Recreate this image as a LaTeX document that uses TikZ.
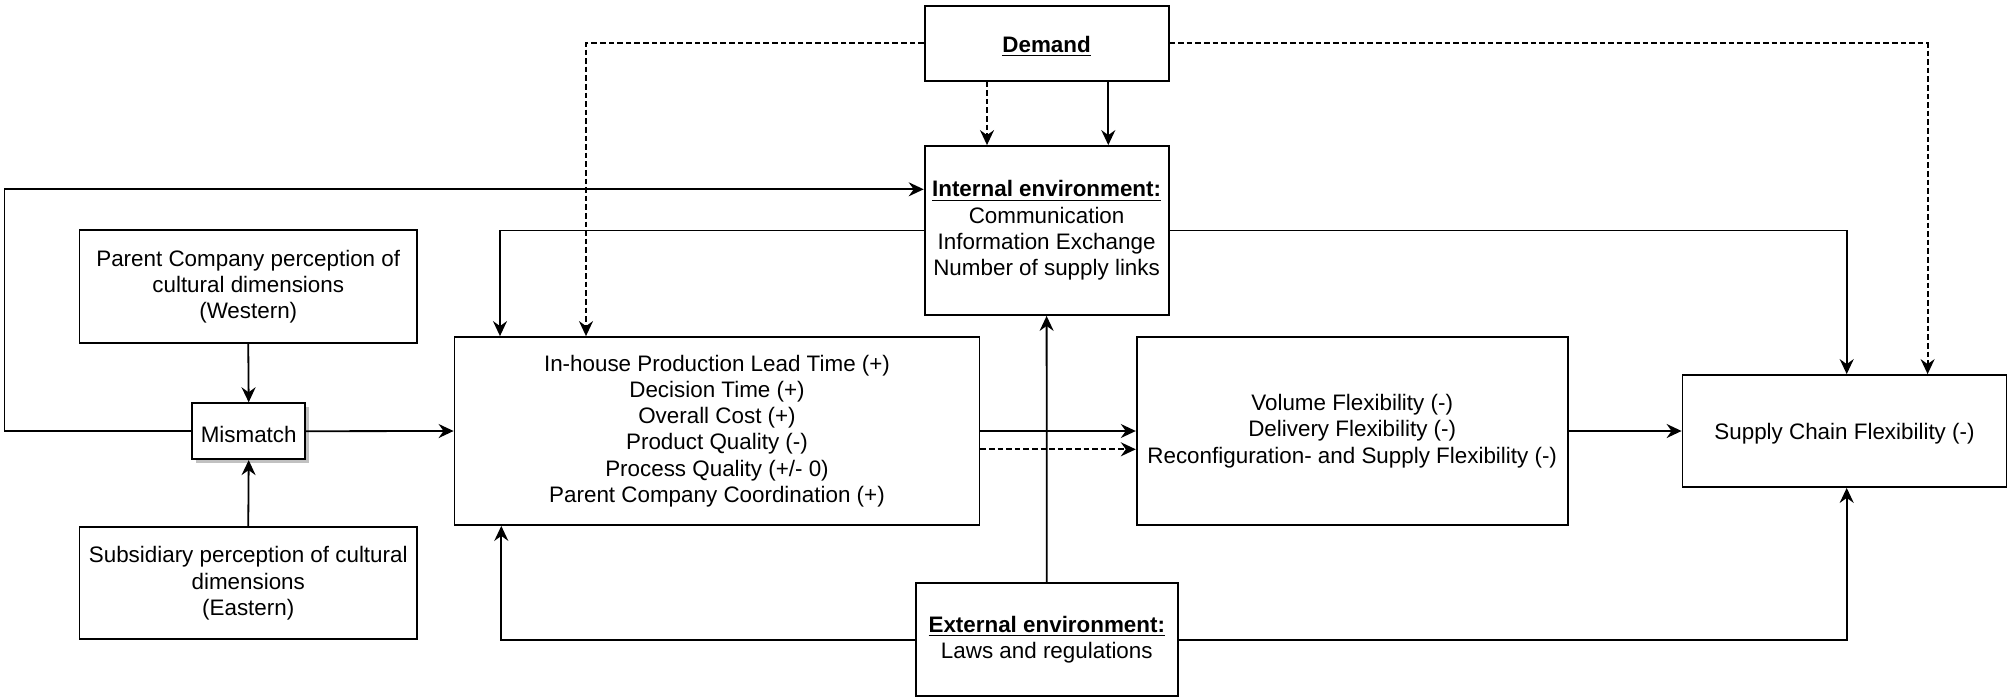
\documentclass[tikz,border=0pt]{standalone}
\usepackage{fontspec}
\setmainfont{Liberation Sans}
\usetikzlibrary{arrows.meta,shadows}

\begin{document}
\begin{tikzpicture}[x=0.5pt,y=-0.5pt,
  box/.style={draw=black,line width=0.9pt,fill=white,inner sep=0pt,align=center,
    font=\fontsize{11.2}{13.1}\selectfont,
    execute at begin node={\rule{0pt}{11pt}}},
  arr/.style={draw=black,line width=0.9pt,-{Stealth[length=7.5pt,width=7pt,inset=2.5pt]}},
  darr/.style={arr,dash pattern=on 2.8pt off 1.5pt}]
\useasboundingbox (0,0) rectangle (2008,697);

% boxes
\node[box,minimum width=122pt,minimum height=37.5pt] (dem) at (1046.6,43.2)
  {\underline{\textbf{Demand}}};
\node[box,minimum width=122pt,minimum height=84.5pt] (int) at (1046.6,230.5)
  {\underline{\textbf{Internal environment:}}\\Communication\\Information Exchange\\Number of supply links};
\node[box,minimum width=168.75pt,minimum height=56.5pt] (par) at (248.25,286.5)
  {Parent Company perception of\\cultural dimensions\\(Western)};
\node[box,minimum width=56.4pt,minimum height=28pt,
  drop shadow={shadow xshift=2pt,shadow yshift=-2pt,fill=gray!60,opacity=0.8}] (mis) at (248.7,431.2)
  {Mismatch};
\node[box,minimum width=168.75pt,minimum height=56pt] (sub) at (248.25,583.3)
  {Subsidiary perception of cultural\\dimensions\\(Eastern)};
\node[box,minimum width=262.5pt,minimum height=94pt] (mid) at (717,431)
  {In-house Production Lead Time (+)\\Decision Time (+)\\Overall Cost (+)\\Product Quality (-)\\Process Quality (+/- 0)\\Parent Company Coordination (+)};
\node[box,minimum width=215.5pt,minimum height=94pt] (vol) at (1352.2,431)
  {Volume Flexibility (-)\\Delivery Flexibility (-)\\Reconfiguration- and Supply Flexibility (-)};
\node[box,minimum width=162pt,minimum height=56pt] (scf) at (1844.5,431)
  {Supply Chain Flexibility (-)};
\node[box,minimum width=131.2pt,minimum height=56.4pt] (ext) at (1046.8,639.6)
  {\underline{\textbf{External environment:}}\\Laws and regulations};

% cultural perceptions into the mismatch
\draw[arr] (par.south) -- (mis.north);
\draw[arr] (sub.north) -- (mis.south);
\draw[arr] (mis.east) -- (mid.west);
\draw[arr] (mis.west) -| (4.5,189.3) -- (int.west |- 4.5,189.3);

% internal environment
\draw[arr] (int.west) -| (500,0 |- mid.north);
\draw[arr] (int.east) -| (1846.7,0 |- scf.north);

% demand
\draw[darr] (dem.west) -| (586,0 |- mid.north);
\draw[darr] (dem.east) -| (1927.6,0 |- scf.north);
\draw[darr] (987,0 |- dem.south) -- (987,0 |- int.north);
\draw[arr] (1108.3,0 |- dem.south) -- (1108.3,0 |- int.north);

% external environment
\draw[arr] (ext.north) -- (int.south);
\draw[arr] (ext.west) -| (501.3,0 |- mid.south);
\draw[arr] (ext.east) -| (1846.7,0 |- scf.south);

% flexibility chain
\draw[arr] (mid.east) -- (vol.west);
\draw[darr] (mid.east |- 0,449.3) -- (vol.west |- 0,449.3);
\draw[arr] (vol.east) -- (scf.west);
\end{tikzpicture}
\end{document}
